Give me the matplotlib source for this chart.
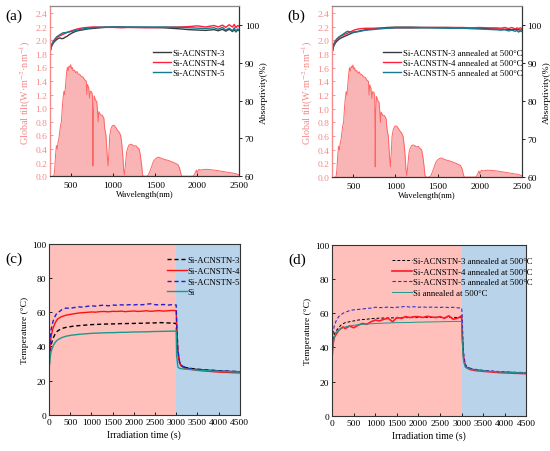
import numpy as np
import matplotlib
matplotlib.use("Agg")
import matplotlib.pyplot as plt

plt.rcParams['font.family'] = ['Liberation Serif', 'DejaVu Serif']
plt.rcParams['mathtext.fontset'] = 'stix'

# ---- solar spectrum (AM1.5G) ----
sun_wl = [280, 295, 305, 315, 325, 335, 345, 355, 365, 375,
          385, 395, 405, 415, 425, 435, 445, 455, 465, 475,
          485, 495, 505, 515, 525, 540, 555, 570, 585, 600,
          620, 640, 660, 680, 687, 695, 710, 720, 730, 745,
          755, 760, 765, 775, 790, 805, 815, 822, 830, 850,
          870, 890, 900, 915, 930, 940, 950, 960, 975, 990,
          1010, 1030, 1050, 1070, 1090, 1105, 1115, 1125, 1135, 1145,
          1160, 1175, 1190, 1210, 1230, 1250, 1270, 1290, 1310, 1325,
          1340, 1350, 1360, 1400, 1420, 1440, 1460, 1480, 1500, 1520,
          1540, 1560, 1580, 1600, 1630, 1660, 1700, 1740, 1770, 1790,
          1805, 1815, 1950, 1965, 1980, 1990, 2000, 2010, 2020, 2040,
          2080, 2120, 2160, 2200, 2250, 2300, 2350, 2400, 2450, 2500]
sun_irr = [0.0, 0.0, 0.1, 0.3, 0.45, 0.4, 0.5, 0.55, 0.65, 0.75,
           0.8, 1.0, 1.15, 1.25, 1.2, 1.35, 1.5, 1.6, 1.55, 1.62,
           1.6, 1.64, 1.58, 1.6, 1.55, 1.56, 1.52, 1.54, 1.5, 1.5,
           1.47, 1.46, 1.42, 1.4, 1.2, 1.35, 1.3, 1.15, 1.25, 1.24,
           1.18, 0.15, 0.9, 1.18, 1.12, 1.1, 0.95, 0.8, 0.95, 0.9,
           0.9, 0.85, 0.7, 0.6, 0.3, 0.15, 0.35, 0.6, 0.7, 0.74,
           0.75, 0.72, 0.68, 0.65, 0.6, 0.45, 0.3, 0.1, 0.02, 0.15,
           0.35, 0.42, 0.46, 0.47, 0.46, 0.44, 0.45, 0.42, 0.4, 0.3,
           0.15, 0.02, 0.0, 0.0, 0.02, 0.08, 0.15, 0.22, 0.25, 0.27,
           0.28, 0.27, 0.26, 0.25, 0.24, 0.23, 0.21, 0.19, 0.17, 0.12,
           0.04, 0.0, 0.0, 0.02, 0.06, 0.09, 0.05, 0.08, 0.1, 0.09,
           0.1, 0.1, 0.095, 0.09, 0.08, 0.07, 0.06, 0.05, 0.04, 0.02]

# ---- absorptivity (%) ----
abs_wl = [250, 270, 290, 310, 330, 350, 370, 390, 410, 430,
          450, 480, 520, 560, 600, 650, 700, 750, 800, 900,
          1000, 1100, 1200, 1400, 1600, 1800, 1900, 2000, 2100, 2200,
          2250, 2300, 2340, 2380, 2420, 2440, 2460, 2480, 2500]
abs_a3 = [93.0, 94.5, 95.3, 95.8, 96.2, 96.5, 96.6, 96.4, 96.5, 96.8,
          97.0, 97.5, 98.0, 98.4, 98.6, 98.8, 99.0, 99.1, 99.2, 99.4,
          99.5, 99.5, 99.4, 99.4, 99.3, 99.0, 98.8, 98.7, 98.6, 98.8,
          98.5, 98.9, 98.4, 98.9, 98.3, 98.8, 98.2, 98.7, 98.5]
abs_a4 = [93.0, 94.8, 95.6, 96.2, 96.7, 97.0, 97.2, 97.4, 97.6, 97.8,
          98.0, 98.3, 98.6, 98.9, 99.1, 99.3, 99.4, 99.5, 99.5, 99.4,
          99.4, 99.3, 99.4, 99.3, 99.4, 99.5, 99.6, 99.8, 99.5, 99.9,
          99.5, 100.0, 99.4, 100.1, 99.5, 100.2, 99.3, 99.9, 99.6]
abs_a5 = [93.0, 94.9, 95.8, 96.4, 96.9, 97.2, 97.5, 97.8, 98.0, 98.0,
          98.1, 98.2, 98.4, 98.6, 98.8, 99.0, 99.2, 99.3, 99.4, 99.5,
          99.5, 99.5, 99.5, 99.5, 99.5, 99.4, 99.3, 99.2, 99.1, 99.3,
          98.9, 99.4, 98.7, 99.2, 98.5, 99.3, 98.3, 99.0, 98.6]
abs_b3 = [93.0, 94.6, 95.4, 95.9, 96.3, 96.6, 96.8, 97.0, 97.2, 97.4,
          97.6, 97.9, 98.2, 98.4, 98.6, 98.8, 99.0, 99.1, 99.2, 99.4,
          99.5, 99.5, 99.5, 99.4, 99.4, 99.3, 99.2, 99.2, 99.1, 99.0,
          99.0, 98.9, 98.9, 98.8, 98.9, 98.8, 98.8, 98.7, 98.8]
abs_b4 = [93.0, 95.0, 95.8, 96.4, 96.8, 97.1, 97.3, 97.5, 97.7, 97.9,
          98.1, 98.4, 98.8, 99.0, 99.1, 99.2, 99.2, 99.2, 99.2, 99.2,
          99.3, 99.3, 99.3, 99.4, 99.4, 99.4, 99.3, 99.4, 99.3, 99.3,
          99.2, 99.4, 99.1, 99.4, 99.0, 99.3, 99.1, 99.3, 99.1]
abs_b5 = [93.0, 95.1, 96.0, 96.5, 96.9, 97.2, 97.5, 97.8, 98.1, 98.4,
          98.3, 98.2, 98.2, 98.3, 98.5, 98.7, 98.8, 98.9, 99.0, 99.2,
          99.3, 99.3, 99.3, 99.3, 99.2, 99.2, 99.1, 99.0, 98.9, 98.8,
          98.7, 98.8, 98.5, 98.7, 98.4, 98.6, 98.2, 98.5, 98.3]

# ---- temperature vs irradiation time ----
t_s = [0, 20, 50, 100, 150, 200, 250, 300, 400, 500,
       600, 700, 800, 900, 1000, 1100, 1200, 1300, 1400, 1500,
       1600, 1700, 1800, 1900, 2000, 2100, 2200, 2300, 2400, 2500,
       2600, 2700, 2800, 2900, 3000, 3010, 3040, 3080, 3120, 3200,
       3300, 3500, 3700, 3900, 4100, 4300, 4500]

c3 = [25, 34, 41, 45, 47.5, 49, 49.8, 50.5, 51.2, 51.6,
      52.0, 52.2, 52.4, 52.6, 52.8, 52.9, 53.0, 53.1, 53.2, 53.2,
      53.3, 53.4, 53.4, 53.5, 53.5, 53.6, 53.6, 53.7, 53.8, 53.8,
      54.0, 53.9, 53.8, 53.7, 53.5, 48, 36, 30.5, 28.8, 27.8,
      27.3, 26.7, 26.3, 26.0, 25.7, 25.5, 25.3]
c4 = [25, 37, 46, 51, 54, 56, 56.8, 57.5, 58.3, 58.8,
      59.2, 59.6, 59.8, 60.0, 60.2, 60.1, 60.4, 60.5, 60.3, 60.6,
      60.5, 60.7, 60.4, 60.6, 60.8, 60.5, 60.7, 60.9, 60.6, 60.8,
      61.0, 60.7, 60.9, 61.1, 61.0, 54, 37, 30.5, 28.5, 27.3,
      26.8, 26.0, 25.6, 25.2, 24.9, 24.7, 24.5]
c5 = [25, 40, 50, 55, 58, 60, 60.5, 61.5, 62.5, 62.3,
      62.8, 63.2, 63.0, 63.5, 63.8, 63.6, 64.0, 64.2, 63.8, 64.3,
      64.1, 64.4, 64.2, 64.5, 64.3, 64.6, 64.4, 64.8, 65.0, 64.5,
      64.3, 64.6, 64.2, 64.5, 64.3, 55, 38, 31, 29, 27.8,
      27.2, 26.6, 26.2, 25.9, 25.6, 25.4, 25.2]
c_si = [25, 32, 37, 40.5, 42.5, 43.8, 44.5, 45.2, 46.0, 46.5,
        46.8, 47.1, 47.3, 47.5, 47.7, 47.8, 47.9, 48.0, 48.1, 48.1,
        48.2, 48.3, 48.3, 48.4, 48.5, 48.5, 48.6, 48.6, 48.7, 48.8,
        48.8, 48.9, 48.9, 49.0, 49.0, 35, 28, 27.2, 27.0, 26.8,
        26.6, 26.2, 25.9, 25.6, 25.4, 25.2, 25.0]

d3 = [36, 44, 48, 50, 51.5, 53, 53.8, 54.5, 55, 55.5,
      56, 56.3, 56.5, 56.8, 57, 57.1, 57.2, 57.2, 57.3, 57.3,
      57.4, 57.4, 57.5, 57.4, 57.5, 57.5, 57.6, 57.5, 57.6, 57.5,
      57.6, 57.5, 57.6, 57.5, 57.4, 50, 36, 30, 28.5, 27.5,
      27.0, 26.4, 26.0, 25.7, 25.5, 25.3, 25.1]
d4 = [35, 42, 46, 48, 50, 51, 52, 51, 52.5, 51.5,
      53, 54, 53.5, 55, 56, 55.5, 56.5, 57, 55, 57.5,
      57, 58, 57.5, 58, 58, 57.5, 58.2, 57.8, 57.5, 58,
      57, 58.5, 56.5, 57, 58.5, 50, 35, 29.5, 28, 27,
      26.5, 26, 25.6, 25.2, 25, 24.8, 24.6]
d5 = [38, 48, 53, 56, 58, 59, 60, 60.5, 61.5, 62,
      62.2, 62.5, 62.8, 63, 63.5, 63.3, 63.4, 63.6, 63.3, 63.5,
      63.7, 64, 63.6, 63.8, 63.5, 63.7, 63.4, 63.6, 63.5, 63.4,
      63.6, 63.3, 63.5, 63.2, 63.0, 60, 38, 30.5, 28.8, 27.8,
      27.2, 26.6, 26.2, 25.8, 25.6, 25.4, 25.2]
d_si = [36, 42, 46, 49, 50, 51, 51.5, 52, 52.5, 53,
        53.2, 53.5, 53.7, 53.8, 54, 54.1, 54.2, 54.3, 54.4, 54.5,
        54.5, 54.6, 54.6, 54.7, 54.8, 54.8, 54.9, 54.9, 55, 55,
        55.1, 55.1, 55.2, 55.2, 55.2, 45, 32, 28.5, 27.8, 27.2,
        26.8, 26.3, 25.9, 25.6, 25.4, 25.2, 25.0]

labels_a = ['Si-ACNSTN-3', 'Si-ACNSTN-4', 'Si-ACNSTN-5']
labels_b = ['Si-ACNSTN-3 annealed at 500°C', 'Si-ACNSTN-4 annealed at 500°C',
            'Si-ACNSTN-5 annealed at 500°C']
labels_c = ['Si-ACNSTN-3', 'Si-ACNSTN-4', 'Si-ACNSTN-5', 'Si']
labels_d = labels_b + ['Si annealed at 500°C']

pink_txt = '#f48a8a'
spine_c = '#333333'
abs_colors = ['#3a3a3a', '#ff1f3a', '#17788f']
LEG_FS = 6.3

fig = plt.figure(figsize=(5.5, 4.52), dpi=100)


def style_axes(ax, fs=6.8):
    for s in ax.spines.values():
        s.set_color(spine_c)
        s.set_linewidth(0.8)
    ax.tick_params(direction='in', length=2.5, width=0.6, labelsize=fs, pad=2)


def spectrum_panel(rect, curves, labels, leg_x, panel):
    ax = fig.add_axes(rect)
    ax.fill_between(sun_wl, sun_irr, color='#f9b5b5', lw=0)
    ax.plot(sun_wl, sun_irr, color='#ff6464', lw=0.7)
    ax.set_xlim(250, 2500)
    ax.set_ylim(0, 2.5)
    ax.set_yticks(np.arange(0, 2.41, 0.2))
    ax.set_yticklabels([f'{v:.1f}' for v in np.arange(0, 2.41, 0.2)])
    ax.set_xticks([500, 1000, 1500, 2000, 2500])
    style_axes(ax)
    ax.tick_params(axis='y', colors=pink_txt)
    ax.tick_params(axis='x', pad=3.5)
    ax.set_ylabel('Global tilt(W·m$^{-2}$·nm$^{-1}$)', color=pink_txt, fontsize=7.3, labelpad=2)
    ax.set_xlabel('Wavelength(nm)', fontsize=6.2, labelpad=1)
    ax2 = ax.twinx()
    for y, c, lab in zip(curves, abs_colors, labels):
        ax2.plot(abs_wl, y, color=c, lw=1.0, label=lab)
    ax2.set_ylim(60, 105)
    ax2.set_yticks([60, 70, 80, 90, 100])
    style_axes(ax2)
    ax2.spines['left'].set_color(pink_txt)
    ax2.spines['top'].set_color('#888888')
    ax2.tick_params(axis='y', direction='out', pad=1.5)
    ax2.set_ylabel('Absorptivity(%)', fontsize=6.8, labelpad=0.5)
    ax2.legend(loc='upper left', bbox_to_anchor=(leg_x, 0.75), frameon=False,
               fontsize=LEG_FS, handlelength=2.0, handletextpad=0.2,
               labelspacing=0.2, borderpad=0, borderaxespad=0)
    fig.text(rect[0] - 0.082, rect[1] + rect[3] - 0.027, panel, fontsize=11)


def temp_panel(rect, curves, styles, labels, leg_x, panel):
    ax = fig.add_axes(rect)
    ax.axvspan(0, 3000, color='#ffc0bb', lw=0)
    ax.axvspan(3000, 4500, color='#b9d3eb', lw=0)
    for y, (c, ls, lw), lab in zip(curves, styles, labels):
        ax.plot(t_s, y, color=c, ls=ls, lw=lw, label=lab)
    ax.set_xlim(0, 4500)
    ax.set_ylim(0, 100)
    ax.set_xticks(range(0, 4501, 500))
    ax.set_yticks(range(0, 101, 20))
    style_axes(ax)
    ax.set_xlabel('Irradiation time (s)', fontsize=7, labelpad=3)
    ax.set_ylabel('Temperature (°C)', fontsize=6.8, labelpad=2)
    ax.legend(loc='upper left', bbox_to_anchor=(leg_x, 0.93), frameon=False,
              fontsize=LEG_FS, handlelength=2.2, handletextpad=0.1,
              labelspacing=0.3, borderpad=0, borderaxespad=0)
    fig.text(rect[0] - 0.08, rect[1] + rect[3] - 0.04, panel, fontsize=11)


spectrum_panel([0.091, 0.608, 0.344, 0.376], [abs_a3, abs_a4, abs_a5],
               labels_a, 0.545, '(a)')
spectrum_panel([0.604, 0.606, 0.345, 0.378], [abs_b3, abs_b4, abs_b5],
               labels_b, 0.27, '(b)')

styles_c = [('black', (0, (3, 2)), 1.0), ('#ff1010', '-', 1.0),
            ('#2020d0', (0, (3, 2)), 1.0), ('#1a9a8a', '-', 1.0)]
temp_panel([0.089, 0.080, 0.347, 0.378], [c3, c4, c5, c_si], styles_c,
           labels_c, 0.62, '(c)')
styles_d = [('black', (0, (3, 2)), 0.7), ('#ff1a2a', '-', 1.2),
            ('#3030d0', (0, (3, 2)), 0.8), ('#1a9a8a', '-', 0.7)]
temp_panel([0.604, 0.078, 0.353, 0.378], [d3, d4, d5, d_si], styles_d,
           labels_d, 0.31, '(d)')

fig.savefig('out.png', dpi=100)
